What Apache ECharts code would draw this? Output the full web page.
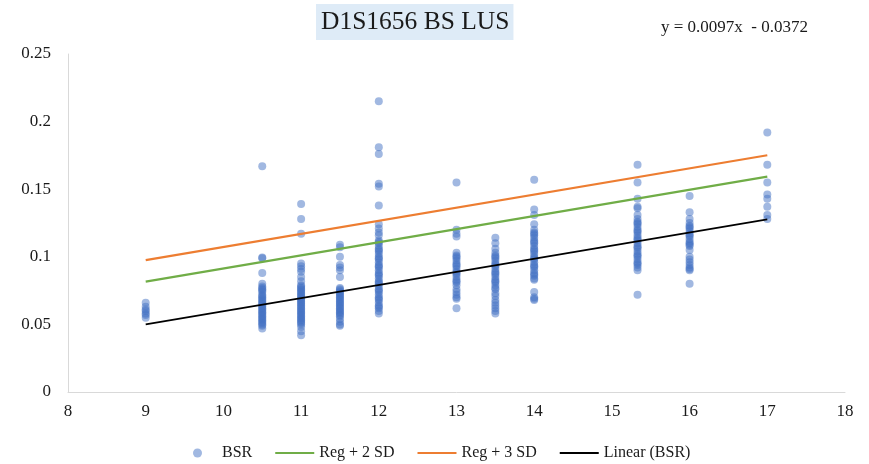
<!DOCTYPE html>
<html>
<head>
<meta charset="utf-8">
<script src="https://cdn.jsdelivr.net/npm/echarts@6/dist/echarts.min.js"></script>
<style>html,body{margin:0;padding:0;background:#fff;}#c{width:869px;height:464px;}</style>
</head>
<body>
<div id="c"></div>
<script>
// ---- data ----
const titleText = 'D1S1656 BS LUS';
const equationText = 'y = 0.0097x  - 0.0372';
const seriesNames = ['BSR', 'Reg + 2 SD', 'Reg + 3 SD', 'Linear (BSR)'];

const bsrX = [9, 10.5, 11, 11.5, 12, 13, 13.5, 14, 15.33, 16, 17];
const bsrY = [
  [0.066, 0.063, 0.061, 0.060, 0.058, 0.057, 0.055],
  [0.167, 0.0995, 0.099, 0.088, 0.080, 0.078, 0.077, 0.076, 0.075, 0.074, 0.072, 0.071, 0.070, 0.069, 0.068, 0.067, 0.066, 0.065, 0.064, 0.063, 0.062, 0.061, 0.060, 0.059, 0.058, 0.057, 0.056, 0.055, 0.054, 0.053, 0.052, 0.051, 0.050, 0.049, 0.047],
  [0.139, 0.128, 0.117, 0.095, 0.093, 0.091, 0.089, 0.085, 0.082, 0.079, 0.078, 0.077, 0.076, 0.075, 0.074, 0.073, 0.072, 0.071, 0.070, 0.069, 0.068, 0.067, 0.066, 0.065, 0.064, 0.063, 0.062, 0.061, 0.060, 0.059, 0.058, 0.057, 0.056, 0.055, 0.054, 0.053, 0.052, 0.051, 0.050, 0.048, 0.045, 0.042],
  [0.109, 0.107, 0.100, 0.094, 0.092, 0.090, 0.085, 0.077, 0.076, 0.075, 0.074, 0.073, 0.072, 0.071, 0.070, 0.069, 0.068, 0.067, 0.066, 0.065, 0.064, 0.063, 0.062, 0.061, 0.060, 0.059, 0.058, 0.057, 0.056, 0.054, 0.052, 0.050, 0.049],
  [0.215, 0.181, 0.176, 0.154, 0.152, 0.138, 0.124, 0.121, 0.118, 0.116, 0.112, 0.111, 0.110, 0.108, 0.106, 0.105, 0.104, 0.102, 0.100, 0.099, 0.098, 0.096, 0.094, 0.093, 0.092, 0.090, 0.088, 0.087, 0.086, 0.084, 0.082, 0.081, 0.080, 0.078, 0.076, 0.075, 0.074, 0.072, 0.070, 0.069, 0.068, 0.066, 0.064, 0.063, 0.062, 0.060, 0.058],
  [0.155, 0.120, 0.117, 0.115, 0.103, 0.101, 0.100, 0.099, 0.097, 0.095, 0.094, 0.093, 0.091, 0.089, 0.088, 0.087, 0.085, 0.083, 0.082, 0.081, 0.079, 0.076, 0.074, 0.072, 0.070, 0.069, 0.062],
  [0.114, 0.110, 0.106, 0.103, 0.101, 0.100, 0.099, 0.097, 0.095, 0.094, 0.093, 0.091, 0.089, 0.088, 0.087, 0.085, 0.083, 0.082, 0.081, 0.079, 0.077, 0.076, 0.073, 0.071, 0.068, 0.066, 0.064, 0.062, 0.060, 0.058],
  [0.157, 0.135, 0.131, 0.124, 0.120, 0.118, 0.117, 0.116, 0.114, 0.112, 0.111, 0.110, 0.108, 0.106, 0.105, 0.104, 0.102, 0.100, 0.099, 0.098, 0.096, 0.094, 0.093, 0.092, 0.090, 0.088, 0.087, 0.086, 0.084, 0.083, 0.074, 0.070, 0.069, 0.068],
  [0.168, 0.155, 0.143, 0.137, 0.136, 0.131, 0.128, 0.126, 0.125, 0.124, 0.122, 0.120, 0.119, 0.118, 0.116, 0.114, 0.113, 0.112, 0.110, 0.108, 0.107, 0.106, 0.104, 0.102, 0.101, 0.100, 0.098, 0.096, 0.095, 0.094, 0.092, 0.090, 0.072],
  [0.145, 0.133, 0.128, 0.125, 0.123, 0.122, 0.121, 0.119, 0.117, 0.116, 0.115, 0.113, 0.111, 0.110, 0.109, 0.108, 0.105, 0.100, 0.098, 0.096, 0.094, 0.092, 0.091, 0.090, 0.080],
  [0.192, 0.168, 0.155, 0.146, 0.143, 0.137, 0.131, 0.128]
];

const lineX = [9, 17];
const reg2Y = [0.0817, 0.1593];
const reg3Y = [0.0975, 0.1751];
const linearY = [0.0501, 0.1277];

const xTicks = [8, 9, 10, 11, 12, 13, 14, 15, 16, 17, 18];
const yTicks = [0, 0.05, 0.1, 0.15, 0.2, 0.25];

// ---- build ----
const scatterData = [];
bsrX.forEach((x, i) => bsrY[i].forEach(y => scatterData.push([x, y])));
const pairs = ys => lineX.map((x, i) => [x, ys[i]]);

const FONT = "'Liberation Serif', 'Times New Roman', serif";
const LINE_ICON = 'path://M0,0 L40,0 L40,2 L0,2 Z';
const chart = echarts.init(document.getElementById('c'), null, {renderer: 'canvas'});
chart.setOption({
  animation: false,
  backgroundColor: '#fff',
  title: [
    {
      text: titleText, left: 316, top: 4,
      backgroundColor: '#DEEBF7', padding: [5, 4, 5, 5],
      textStyle: {fontFamily: FONT, fontSize: 25.5, fontWeight: 'normal', color: '#1a1a1a'}
    },
    {
      text: equationText, left: 661, top: 19, padding: 0,
      textStyle: {fontFamily: FONT, fontSize: 17, fontWeight: 'normal', color: '#1a1a1a'}
    }
  ],
  grid: {left: 68, right: 24, top: 54, bottom: 72},
  legend: {
    left: 188, top: 440,
    itemWidth: 39, itemHeight: 9, itemGap: 23,
    textStyle: {fontFamily: FONT, fontSize: 16, color: '#1a1a1a'},
    data: [
      {name: seriesNames[0], icon: 'circle'},
      {name: seriesNames[1], icon: LINE_ICON},
      {name: seriesNames[2], icon: LINE_ICON},
      {name: seriesNames[3], icon: LINE_ICON}
    ]
  },
  xAxis: {
    type: 'value', min: xTicks[0], max: xTicks[xTicks.length - 1], interval: 1,
    axisLine: {show: true, lineStyle: {color: '#D9D9D9', width: 1}},
    axisTick: {show: false},
    splitLine: {show: false},
    axisLabel: {fontFamily: FONT, fontSize: 17, color: '#1a1a1a', margin: 11}
  },
  yAxis: {
    type: 'value', min: yTicks[0], max: yTicks[yTicks.length - 1], interval: 0.05,
    axisLine: {show: true, lineStyle: {color: '#D9D9D9', width: 1}},
    axisTick: {show: false},
    splitLine: {show: false},
    axisLabel: {fontFamily: FONT, fontSize: 17, color: '#1a1a1a', margin: 17,
      formatter: v => String(Math.round(v * 100) / 100)}
  },
  series: [
    {
      name: seriesNames[0], type: 'scatter', data: scatterData,
      symbol: 'circle', symbolSize: 8,
      itemStyle: {color: '#4472C4', opacity: 0.5}, z: 2
    },
    {
      name: seriesNames[1], type: 'line', data: pairs(reg2Y), symbol: 'none',
      lineStyle: {color: '#70AD47', width: 2.25}, itemStyle: {color: '#70AD47'}, z: 3
    },
    {
      name: seriesNames[2], type: 'line', data: pairs(reg3Y), symbol: 'none',
      lineStyle: {color: '#ED7D31', width: 2.25}, itemStyle: {color: '#ED7D31'}, z: 3
    },
    {
      name: seriesNames[3], type: 'line', data: pairs(linearY), symbol: 'none',
      lineStyle: {color: '#000000', width: 1.75}, itemStyle: {color: '#000000'}, z: 4
    }
  ]
});
</script>
</body>
</html>
